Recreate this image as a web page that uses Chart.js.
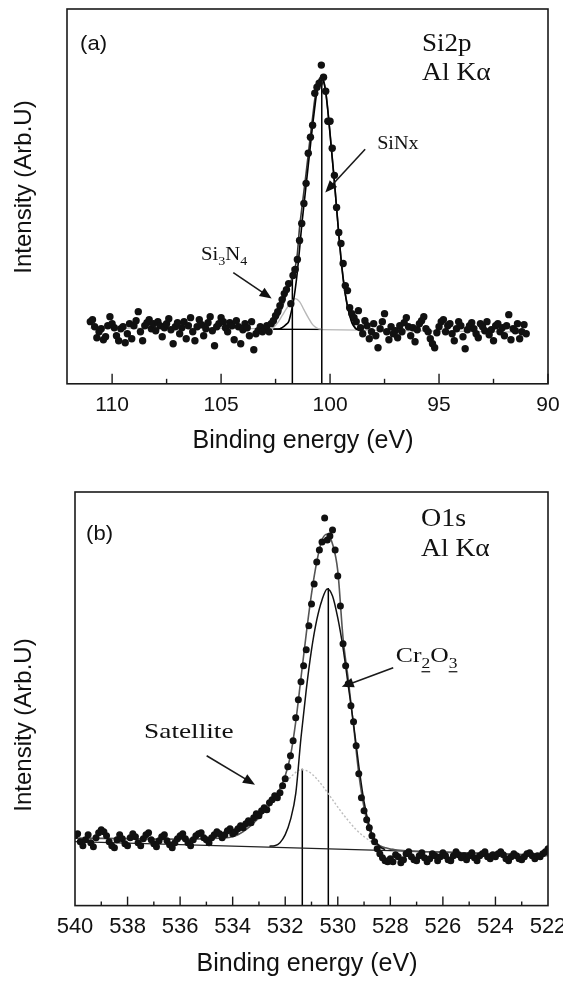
<!DOCTYPE html>
<html>
<head>
<meta charset="utf-8">
<script src="https://cdn.jsdelivr.net/npm/chart.js@4/dist/chart.umd.min.js"></script>
<style>
  html, body { margin: 0; padding: 0; background: #fff; overflow: hidden; width: 563px; height: 985px; }
  canvas { position: absolute; left: 0; }
</style>
</head>
<body>
<canvas id="xpsA" width="600" height="470" style="top:0;width:600px;height:470px"></canvas>
<canvas id="xpsB" width="600" height="515" style="top:470px;width:600px;height:515px"></canvas>
<script>
const sansFont = '"Liberation Sans", Arial, sans-serif';
const serifFont = '"Liberation Serif", "Times New Roman", serif';

// ---------- panel (a) : Si2p, scan 111.0 -> 91.0 eV, 0.1 eV step ----------
const countsA = [
  62, 64, 57, 46, 52, 55, 44, 47, 58, 67,
  60, 56, 48, 43, 55, 57, 41, 50, 60, 45,
  58, 63, 72, 52, 43, 58, 61, 64, 55, 60,
  53, 62, 58, 47, 56, 60, 65, 54, 40, 57,
  61, 50, 56, 62, 45, 58, 66, 52, 43, 57,
  64, 59, 48, 55, 61, 67, 53, 38, 57, 60,
  66, 62, 56, 52, 61, 58, 44, 63, 57, 40,
  54, 60, 56, 48, 62, 34, 50, 53, 57, 52,
  55, 58, 52, 60, 63, 68, 72, 78, 84, 90,
  94, 100, 80, 108, 114, 124, 143, 160, 180, 200,
  230, 246, 258, 290, 296, 300, 318, 306, 292, 262,
  262, 235, 208, 176, 151, 140, 120, 98, 93, 76,
  70, 66, 62, 73, 56, 50, 63, 58, 45, 52,
  60, 48, 36, 55, 62, 70, 52, 44, 57, 50,
  53, 46, 58, 52, 61, 66, 57, 48, 56, 42,
  54, 60, 63, 67, 55, 52, 45, 40, 36, 51,
  57, 62, 64, 52, 58, 60, 50, 43, 55, 62,
  58, 47, 35, 54, 58, 61, 55, 50, 46, 60,
  57, 53, 62, 49, 54, 43, 58, 60, 52, 56,
  48, 58, 69, 44, 55, 53, 60, 45, 52, 59,
  50
];
const energyA = countsA.map((_, i) => Math.round((111 - i * 0.1) * 10) / 10);

const envEnergyA = [103.0, 102.8, 102.6, 102.4, 102.2, 102.0, 101.9, 101.8, 101.7, 101.6, 101.5, 101.4, 101.3, 101.2, 101.1, 101.0, 100.9, 100.8, 100.7, 100.6, 100.5, 100.4, 100.3, 100.2, 100.1, 100.0, 99.9, 99.8, 99.7, 99.6, 99.5, 99.4, 99.3, 99.2, 99.1, 99.0, 98.9, 98.8, 98.6];
const envA = [55, 57, 60, 66, 76, 90, 96, 102, 108, 116, 130, 156, 174, 192, 210, 229, 248, 266, 284, 297, 304, 306, 303, 292, 273, 250, 226, 202, 176, 150, 126, 106, 90, 78, 69, 62, 58, 55, 53.5];

const bgEnergyA = [111.0, 103.0, 100.4, 98.6, 91.0];
const bgA = [55.5, 55, 54, 53.5, 51.5];

const sinxEnergyA = [102.6, 102.3, 102.2, 102.1, 102.0, 101.9, 101.8, 101.7, 101.6, 101.5, 101.4, 101.3, 101.2, 101.1, 101.0, 100.9, 100.8, 100.7, 100.6, 100.5, 100.4, 100.3, 100.2, 100.1, 100.0, 99.9, 99.8, 99.7, 99.6, 99.5, 99.4, 99.3, 99.2, 99.1, 99.0, 98.9, 98.8, 98.6];
const sinxA = [54.5, 55, 56, 57.5, 59.5, 62, 70, 80, 94, 112, 134, 158, 178, 198, 218, 238, 258, 276, 292, 302, 305, 302, 291, 272, 249, 225, 201, 175, 149, 125, 105, 89, 77, 68, 61, 57, 54.5, 53.5];

const si3n4EnergyA = [102.8, 102.6, 102.4, 102.2, 102.0, 101.8, 101.6, 101.4, 101.2, 101.0, 100.8, 100.6, 100.4];
const si3n4A = [55, 56, 61, 68, 75, 81, 85, 82, 74, 66, 59, 55.5, 54.5];

const baseSegEnergyA = [102.6, 100.38];
const baseSegA = [54.3, 54.3];
const peakPosA = [101.73, 100.38];
const peakTopA = [116, 305];

const majorTicksA = [110, 105, 100, 95, 90];
const minorTicksA = [107.5, 102.5, 97.5, 92.5];

// ---------- panel (b) : O1s, scan 540.0 -> 522.0 eV, 0.1 eV step ----------
const countsB = [
  70, 72, 64, 60, 66, 71, 63, 59, 68, 73,
  76, 74, 70, 64, 60, 58, 66, 71, 67, 62,
  60, 68, 72, 69, 63, 60, 67, 71, 73, 66,
  62, 59, 65, 69, 71, 65, 61, 58, 63, 67,
  70, 72, 67, 63, 60, 66, 70, 72, 73, 68,
  66, 63, 68, 71, 74, 72, 68, 71, 75, 77,
  72, 74, 77, 80, 78, 82, 85, 83, 88, 92,
  90, 95, 98, 96, 103, 106, 110, 108, 113, 120,
  127, 139, 150, 165, 188, 206, 224, 240, 256, 280,
  302, 322, 344, 356, 364, 388, 366, 370, 376, 356,
  330, 300, 262, 240, 222, 200, 184, 160, 132, 108,
  95, 86, 78, 70, 64, 57, 52, 48, 45, 44,
  47, 44, 51, 49, 43, 46, 52, 54, 49, 46,
  45, 50, 53, 48, 44, 47, 52, 50, 45, 49,
  53, 50, 46, 45, 50, 54, 51, 48, 50, 46,
  50, 53, 48, 45, 50, 52, 54, 49, 47, 51,
  49, 52, 54, 51, 47, 45, 49, 52, 50, 47,
  46, 49, 52, 53, 50, 47, 50, 49, 52, 54,
  57
];
const energyB = countsB.map((_, i) => Math.round((540 - i * 0.1) * 10) / 10);

const envEnergyB = [540.0, 538.0, 536.0, 535.0, 534.0, 533.8, 533.6, 533.4, 533.2, 533.0, 532.8, 532.6, 532.4, 532.2, 532.0, 531.8, 531.6, 531.4, 531.2, 531.0, 530.8, 530.6, 530.4, 530.2, 530.0, 529.8, 529.6, 529.4, 529.2, 529.0, 528.8, 528.6, 528.4, 528.2, 528.0, 526.0, 524.0, 522.0];
const envB = [67.5, 67, 66.5, 67, 69, 71, 74, 78, 83, 88, 94, 100, 108, 117, 130, 150, 184, 228, 272, 312, 344, 366, 372, 362, 335, 268, 226, 180, 132, 98, 76, 65, 60, 58, 56.5, 53.5, 51.5, 50];

const crEnergyB = [532.6, 532.4, 532.2, 532.0, 531.8, 531.6, 531.4, 531.2, 531.0, 530.8, 530.6, 530.4, 530.2, 530.0, 529.8, 529.6, 529.4, 529.2, 529.0, 528.8, 528.6, 528.4, 528.2];
const crB = [59.5, 60, 63, 71, 86, 112, 168, 216, 256, 286, 306, 317, 310, 288, 258, 220, 182, 140, 104, 80, 66, 59, 56];

const satEnergyB = [535.0, 534.5, 534.0, 533.6, 533.2, 532.8, 532.4, 532.0, 531.7, 531.4, 531.1, 530.8, 530.5, 530.2, 529.9, 529.6, 529.3, 529.0, 528.6, 528.2, 527.8];
const satB = [67, 68, 70, 74, 83, 94, 108, 122, 131, 136, 134, 127, 117, 106, 95, 85, 76, 69, 62, 58, 56];

const baseEnergyB = [540, 522];
const baseB = [64, 50.5];
const peakPosB = [531.35, 530.36];
const peakTopB = [137, 318];

const majorTicksB = [538, 536, 534, 532, 530, 528, 526, 524];
const minorTicksB = [539, 537, 535, 533, 531, 529, 527, 525, 523];

// ---------- helpers ----------
const xy = (xs, ys) => xs.map((x, i) => ({ x, y: ys[i] }));
const curve = (data, color, width, dash) => ({
  data, showLine: true, borderColor: color, borderWidth: width, borderDash: dash || [],
  pointRadius: 0, fill: false, cubicInterpolationMode: 'monotone'
});
const straight = (data, color, width) => ({
  data, showLine: true, borderColor: color, borderWidth: width,
  pointRadius: 0, fill: false, tension: 0
});
const dots = (data, r) => ({
  data, showLine: false, pointRadius: r, pointBackgroundColor: '#111',
  pointBorderWidth: 0, pointStyle: 'circle'
});

// text with subscripts; sx stretches it sideways like the scanned figure
function drawRich(ctx, parts, x0, y0, size, family, sx) {
  ctx.save();
  ctx.translate(x0, y0);
  ctx.scale(sx || 1, 1);
  let x = 0;
  parts.forEach(([txt, kind]) => {
    const sub = kind === 'sub' || kind === 'subline';
    const fs = sub ? size * 0.68 : size;
    ctx.font = fs + 'px ' + family;
    const yy = sub ? size * 0.3 : 0;
    ctx.fillText(txt, x, yy);
    const w = ctx.measureText(txt).width;
    if (kind === 'subline') ctx.fillRect(x, yy + 3, w, 1.2);
    x += w;
  });
  ctx.restore();
}

function arrow(ctx, x1, y1, x2, y2) {
  const a = Math.atan2(y2 - y1, x2 - x1), L = 12, W = 5;
  ctx.beginPath();
  ctx.moveTo(x1, y1);
  ctx.lineTo(x2 - L * 0.7 * Math.cos(a), y2 - L * 0.7 * Math.sin(a));
  ctx.stroke();
  ctx.beginPath();
  ctx.moveTo(x2, y2);
  ctx.lineTo(x2 - L * Math.cos(a) + W * Math.sin(a), y2 - L * Math.sin(a) - W * Math.cos(a));
  ctx.lineTo(x2 - L * Math.cos(a) - W * Math.sin(a), y2 - L * Math.sin(a) + W * Math.cos(a));
  ctx.closePath();
  ctx.fill();
}

const decoCfg = {
  xpsA: {
    major: majorTicksA, minor: minorTicksA, majorLen: 10, minorLen: 5,
    texts: [
      { e: 111.47, h: 333, size: 21, family: sansFont, sx: 1.05, parts: [['(a)']] },
      { e: 95.78, h: 332, size: 25, family: serifFont, sx: 1.08, parts: [['Si2p']] },
      { e: 95.78, h: 303, size: 25, family: serifFont, sx: 1.1, parts: [['Al K\u03b1']] },
      { e: 97.84, h: 234, size: 18, family: serifFont, sx: 1.12, parts: [['SiNx']] },
      { e: 105.92, h: 124, size: 18, family: serifFont, sx: 1.15, parts: [['Si'], ['3', 'sub'], ['N'], ['4', 'sub']] }
    ],
    arrows: [[98.39, 234, 100.22, 191], [104.44, 111, 102.68, 85]],
    xTitle: [303, 441], yTitle: [24, 187]
  },
  xpsB: {
    major: majorTicksB, minor: minorTicksB, majorLen: 9, minorLen: 4,
    texts: [
      { e: 539.58, h: 366, size: 21, family: sansFont, sx: 1.05, parts: [['(b)']] },
      { e: 526.83, h: 380, size: 25, family: serifFont, sx: 1.12, parts: [['O1s']] },
      { e: 526.83, h: 350, size: 25, family: serifFont, sx: 1.1, parts: [['Al K\u03b1']] },
      { e: 527.79, h: 244, size: 21, family: serifFont, sx: 1.22, parts: [['Cr'], ['2', 'subline'], ['O'], ['3', 'subline']] },
      { e: 537.37, h: 168, size: 21, family: serifFont, sx: 1.3, parts: [['Satellite']] }
    ],
    arrows: [[527.89, 238, 529.85, 219], [534.99, 150, 533.15, 121]],
    xTitle: [307, 494], yTitle: [24, 255]
  }
};

const deco = {
  id: 'deco',
  afterDraw(chart) {
    const o = decoCfg[chart.canvas.id];
    const { ctx, chartArea: a } = chart;
    const x = chart.scales.x, y = chart.scales.y;
    ctx.save();
    ctx.strokeStyle = '#1a1a1a';
    ctx.fillStyle = '#111';
    ctx.lineWidth = 1.6;
    ctx.strokeRect(a.left, a.top, a.right - a.left, a.bottom - a.top);

    ctx.lineWidth = 1.4;
    const tick = (v, len) => {
      const px = x.getPixelForValue(v);
      ctx.beginPath();
      ctx.moveTo(px, a.bottom);
      ctx.lineTo(px, a.bottom - len);
      ctx.stroke();
    };
    o.major.forEach(v => tick(v, o.majorLen));
    o.minor.forEach(v => tick(v, o.minorLen));

    ctx.textAlign = 'left';
    ctx.textBaseline = 'alphabetic';
    o.texts.forEach(t => drawRich(ctx, t.parts, x.getPixelForValue(t.e), y.getPixelForValue(t.h), t.size, t.family, t.sx));

    ctx.lineWidth = 1.6;
    o.arrows.forEach(([e1, h1, e2, h2]) =>
      arrow(ctx, x.getPixelForValue(e1), y.getPixelForValue(h1), x.getPixelForValue(e2), y.getPixelForValue(h2)));

    ctx.font = '25px ' + sansFont;
    ctx.textAlign = 'center';
    ctx.textBaseline = 'middle';
    ctx.fillText('Binding energy (eV)', o.xTitle[0], o.xTitle[1]);
    ctx.font = '24px ' + sansFont;
    ctx.translate(o.yTitle[0], o.yTitle[1]);
    ctx.rotate(-Math.PI / 2);
    ctx.fillText('Intensity (Arb.U)', 0, 0);
    ctx.restore();
  }
};

function makeChart(id, datasets, xOpts, yMax, padding) {
  return new Chart(document.getElementById(id), {
    type: 'scatter',
    data: { datasets },
    options: {
      responsive: false, animation: false, devicePixelRatio: 1, events: [],
      layout: { padding },
      plugins: { legend: { display: false }, tooltip: { enabled: false } },
      scales: {
        x: Object.assign({
          type: 'linear', reverse: true,
          grid: { display: false, drawTicks: false },
          border: { display: false }
        }, xOpts),
        y: { display: false, min: 0, max: yMax }
      }
    },
    plugins: [deco]
  });
}

makeChart('xpsA', [
  dots(xy(energyA, countsA), 3.7),
  curve(xy(sinxEnergyA, sinxA), '#000', 1.6),
  curve(xy(envEnergyA, envA), '#3a3a3a', 1.6),
  curve(xy(si3n4EnergyA, si3n4A), '#b8b8b8', 1.4),
  straight(xy(baseSegEnergyA, baseSegA), '#000', 1.4),
  straight(xy([peakPosA[0], peakPosA[0]], [0, peakTopA[0]]), '#000', 1.5),
  straight(xy([peakPosA[1], peakPosA[1]], [0, peakTopA[1]]), '#000', 1.5),
  straight(xy(bgEnergyA, bgA), '#b5b5b5', 1.3)
], {
  min: 90, max: 112.07,
  ticks: { stepSize: 5, includeBounds: false, autoSkip: false, maxRotation: 0, padding: 9,
           color: '#111', font: { family: sansFont, size: 21 } }
}, 374, { left: 67, right: 52, top: 9, bottom: 43 });

makeChart('xpsB', [
  dots(xy(energyB, countsB), 3.5),
  curve(xy(crEnergyB, crB), '#111', 1.5),
  curve(xy(envEnergyB, envB), '#555', 1.6),
  curve(xy(satEnergyB, satB), '#bdbdbd', 1.4, [2, 2]),
  straight(xy(baseEnergyB, baseB), '#222', 1.2),
  straight(xy([peakPosB[0], peakPosB[0]], [0, peakTopB[0]]), '#000', 1.5),
  straight(xy([peakPosB[1], peakPosB[1]], [0, peakTopB[1]]), '#000', 1.5)
], {
  min: 522, max: 540,
  ticks: { stepSize: 2, includeBounds: false, autoSkip: false, maxRotation: 0, padding: 8,
           color: '#111', font: { family: sansFont, size: 22 } }
}, 414, { left: 75, right: 52, top: 22, bottom: 37 });
</script>
</body>
</html>
